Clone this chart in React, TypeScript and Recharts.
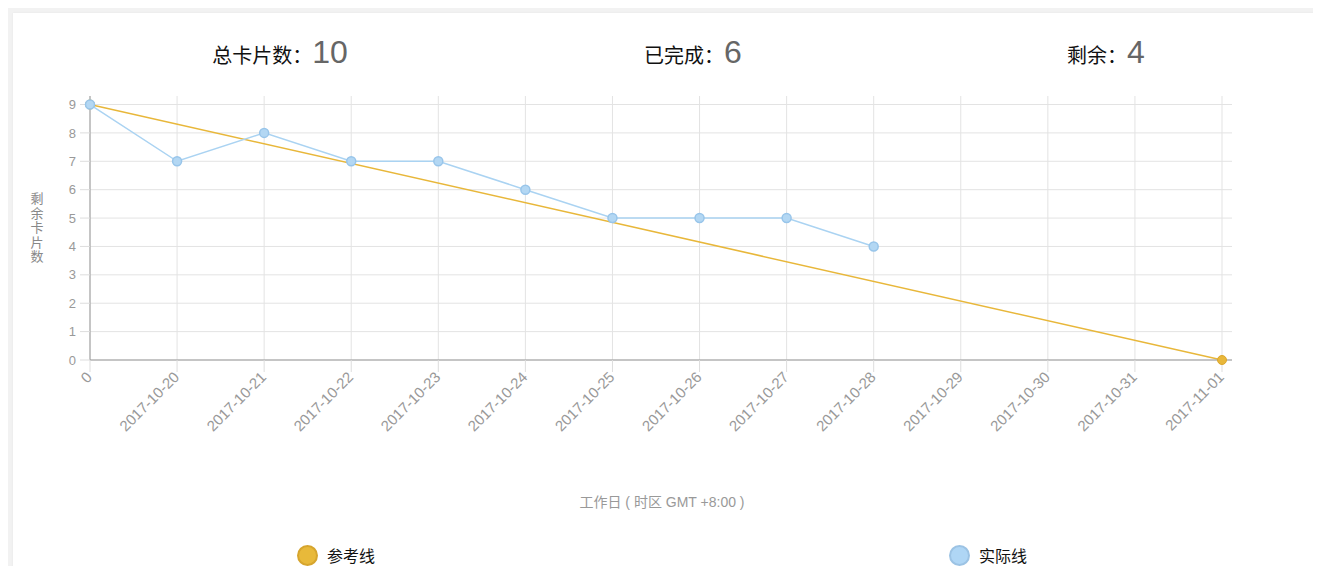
import React from "react";
import { CartesianGrid, Line, LineChart, XAxis, YAxis } from "recharts";

const days = [
  "0",
  "2017-10-20",
  "2017-10-21",
  "2017-10-22",
  "2017-10-23",
  "2017-10-24",
  "2017-10-25",
  "2017-10-26",
  "2017-10-27",
  "2017-10-28",
  "2017-10-29",
  "2017-10-30",
  "2017-10-31",
  "2017-11-01",
];
const actualValues = [9, 7, 8, 7, 7, 6, 5, 5, 5, 4];
// reference line: only start and end points are known
const referenceValues: Array<number | null> = [9, null, null, null, null, null, null, null, null, null, null, null, null, 0];
const yTicks = [0, 1, 2, 3, 4, 5, 6, 7, 8, 9];

const summary = [
  { label: "总卡片数：", value: "10", center: 280 },
  { label: "已完成：", value: "6", center: 693 },
  { label: "剩余：", value: "4", center: 1106 },
];

const data = days.map((day, i) => ({
  name: day,
  reference: referenceValues[i],
  actual: i < actualValues.length ? actualValues[i] : null,
}));

const FONT = '"Liberation Sans", Arial, "Noto Sans CJK SC", sans-serif';
const YELLOW = "#e8b73a";
const BLUE = "#aad3f2";

const XTick = (props: any) => {
  const { x, y, payload } = props;
  return (
    <text
      x={x + 3}
      y={y + 4}
      transform={`rotate(-45, ${x + 3}, ${y + 4})`}
      textAnchor="end"
      fill="#999"
      fontSize={15}
      fontFamily={FONT}
    >
      {payload.value}
    </text>
  );
};

export default function App() {
  return (
    <div
      style={{
        position: "relative",
        margin: -8,
        width: 1321,
        height: 574,
        background: "#f2f2f2",
        overflow: "hidden",
        fontFamily: FONT,
      }}
    >
      <div
        style={{
          position: "absolute",
          left: 13,
          top: 13,
          width: 1303,
          height: 600,
          background: "#fff",
          boxShadow: "0 0 2px rgba(0,0,0,0.06)",
        }}
      />
      {summary.map((s) => (
        <div
          key={s.label}
          style={{
            position: "absolute",
            left: s.center - 200,
            width: 400,
            top: 34,
            textAlign: "center",
            whiteSpace: "nowrap",
          }}
        >
          <span style={{ fontSize: 20, color: "#111" }}>{s.label}</span>
          <span style={{ fontSize: 32, color: "#666" }}>{s.value}</span>
        </div>
      ))}
      <div style={{ position: "absolute", left: 0, top: 0 }}>
        <LineChart
          width={1321}
          height={574}
          data={data}
          margin={{ top: 96, left: 56, right: 89, bottom: 114 }}
        >
          <CartesianGrid stroke="#e3e3e3" strokeWidth={1} syncWithTicks />
          <XAxis
            dataKey="name"
            interval={0}
            padding={{ left: 0, right: 10 }}
            tick={<XTick />}
            tickSize={12}
            tickLine={{ stroke: "#ddd" }}
            axisLine={{ stroke: "#999" }}
            height={100}
          />
          <YAxis
            width={34}
            domain={[0, 9.3]}
            ticks={yTicks}
            interval={0}
            tickSize={10}
            tickMargin={4}
            tickLine={{ stroke: "#ddd" }}
            axisLine={{ stroke: "#999" }}
            tick={{ fill: "#999", fontSize: 13, fontFamily: FONT }}
          />
          <Line
            dataKey="reference"
            stroke={YELLOW}
            strokeWidth={1.5}
            connectNulls
            dot={{ r: 4.5, fill: YELLOW, stroke: "#dca62c", strokeWidth: 1 }}
            isAnimationActive={false}
          />
          <Line
            dataKey="actual"
            stroke={BLUE}
            strokeWidth={1.5}
            dot={{ r: 4.5, fill: "#b3d7f3", stroke: "#98c5ea", strokeWidth: 1.5 }}
            isAnimationActive={false}
          />
        </LineChart>
      </div>
      <div
        style={{
          position: "absolute",
          left: 22,
          top: 192,
          width: 30,
          textAlign: "center",
          fontSize: 13,
          lineHeight: "14.5px",
          color: "#888",
        }}
      >
        {"剩余卡片数".split("").map((c) => (
          <div key={c}>{c}</div>
        ))}
      </div>
      <div
        style={{
          position: "absolute",
          left: 462,
          width: 400,
          top: 491,
          textAlign: "center",
          fontSize: 14,
          color: "#999",
        }}
      >
        工作日 ( 时区 GMT +8:00 )
      </div>
      {[
        { label: "参考线", x: 307, fill: "#e8b93a", stroke: "#d6a52e" },
        { label: "实际线", x: 959, fill: "#afd6f5", stroke: "#9cc3e4" },
      ].map((l) => (
        <div
          key={l.label}
          style={{
            position: "absolute",
            left: l.x - 10,
            top: 543,
            display: "flex",
            alignItems: "center",
            whiteSpace: "nowrap",
          }}
        >
          <span
            style={{
              display: "inline-block",
              width: 17,
              height: 17,
              borderRadius: "50%",
              background: l.fill,
              border: `2px solid ${l.stroke}`,
              marginRight: 9,
            }}
          />
          <span style={{ fontSize: 16, color: "#111" }}>{l.label}</span>
        </div>
      ))}
    </div>
  );
}
